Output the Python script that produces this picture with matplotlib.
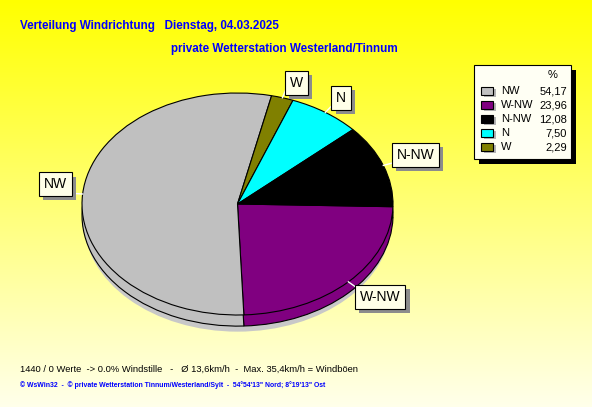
import numpy as np
import matplotlib
matplotlib.use("Agg")
from matplotlib import pyplot as plt
from matplotlib.patches import Rectangle, Ellipse
import matplotlib.patheffects as pe

# legend data (sorted as in the legend)
names = ["NW", "W-NW", "N-NW", "N", "W"]
percent = [54.17, 23.96, 12.08, 7.50, 2.29]
colors = ["#c0c0c0", "#800080", "#000000", "#00ffff", "#808000"]

# order of slices clockwise from 3 o'clock
pie_order = ["W-NW", "NW", "W", "N", "N-NW"]

title1 = "Verteilung Windrichtung   Dienstag, 04.03.2025"
title2 = "private Wetterstation Westerland/Tinnum"
info = "1440 / 0 Werte  -> 0.0% Windstille   -   \u00d8 13,6km/h  -  Max. 35,4km/h = Windb\u00f6en"
footer = "\u00a9 WsWin32  -  \u00a9 private Wetterstation Tinnum/Westerland/Sylt  -  54\u00b054'13\" Nord; 8\u00b019'13\" Ost"

W, H = 592, 407
fig = plt.figure(figsize=(W / 100, H / 100), dpi=100)

# background gradient yellow -> light cream
bg = fig.add_axes([0, 0, 1, 1])
grad = np.linspace(0, 1, 256)
img = np.zeros((256, 1, 3))
img[:, 0, 0] = 1.0
img[:, 0, 1] = 1.0
img[:, 0, 2] = grad * 0.92
bg.imshow(img, aspect="auto", extent=[0, W, H, 0])
bg.set_xlim(0, W)
bg.set_ylim(H, 0)
bg.axis("off")

# pie axes: radius 1 -> 155.5 px wide, 111 px tall
cx, cy, rx, ry = 237.5, 204, 155.5, 111
lim = 1.5
ax = fig.add_axes([(cx - lim * rx) / W, (H - cy - lim * ry) / H,
                   2 * lim * rx / W, 2 * lim * ry / H])

vals = [percent[names.index(n)] for n in pie_order]
cols = [colors[names.index(n)] for n in pie_order]
depth = 0.1
start = -1.4

ax.add_patch(Ellipse((0.0, -0.15), 1.98, 2.0, color="#c8c8c8", lw=0, zorder=0))
ax.pie(vals, colors=cols, startangle=start, counterclock=False,
       center=(0, -depth), wedgeprops=dict(edgecolor="black", linewidth=0.8))
wedges, _ = ax.pie(vals, colors=cols, startangle=start, counterclock=False,
                   wedgeprops=dict(edgecolor="black", linewidth=0.8))
ax.set_aspect("auto")
ax.set_xlim(-lim, lim)
ax.set_ylim(-lim, lim)
ax.axis("off")

# small pixel nudges for the slice labels
nudge = {"W": (6, -3), "N": (0, -1), "N-NW": (6, 4), "NW": (1, 8), "W-NW": (12, -2)}

for w, n in zip(wedges, pie_order):
    mid = np.deg2rad((w.theta1 + w.theta2) / 2)
    c, s = np.cos(mid), np.sin(mid)
    ax.plot([c, 1.08 * c], [s, 1.08 * s], color="white", lw=1, zorder=5)
    dx, dy = nudge[n]
    t = ax.text(1.18 * c + dx / rx, 1.17 * s + dy / ry, n, ha="center", va="center",
                fontsize=10, family=["Liberation Sans", "DejaVu Sans"], zorder=6,
                bbox=dict(boxstyle="square,pad=0.35", fc="#ffffe8", ec="black", lw=0.8))
    t.get_bbox_patch().set_path_effects(
        [pe.SimplePatchShadow(offset=(3, -3), shadow_rgbFace="#8c8c8c", alpha=1.0), pe.Normal()])

# overlay for text and legend in pixel coordinates
ov = fig.add_axes([0, 0, 1, 1])
ov.set_xlim(0, W)
ov.set_ylim(H, 0)
ov.axis("off")
ov.patch.set_alpha(0)

font = ["Liberation Sans", "DejaVu Sans"]
ov.text(20, 26, title1, color="#0000ff", fontsize=8.4, fontweight="bold",
        family=font, va="center", ha="left")
ov.text(171, 49, title2, color="#0000ff", fontsize=8.4, fontweight="bold",
        family=font, va="center", ha="left")
ov.text(20, 369, info, color="black", fontsize=6.75, family=font,
        va="center", ha="left")
ov.text(20, 385, footer, color="#0000ff", fontsize=4.95, fontweight="bold",
        family=font, va="center", ha="left")

# legend box
lx0, ly0, lx1, ly1 = 474, 65, 571, 159
ov.add_patch(Rectangle((lx0 + 5, ly0 + 5), lx1 - lx0, ly1 - ly0, fc="black", ec="none"))
ov.add_patch(Rectangle((lx0, ly0), lx1 - lx0, ly1 - ly0, fc="#fffff4", ec="black", lw=0.8))
ov.text(553, 75, "%", fontsize=8, family=font, ha="center", va="center")
for i, (n, p, c) in enumerate(zip(names, percent, colors)):
    y = 91 + i * 14
    ov.add_patch(Rectangle((484, y - 2), 12, 8, fc="#b4b4b4", ec="none"))
    ov.add_patch(Rectangle((481, y - 4), 12, 8, fc=c, ec="black", lw=0.8))
    ov.text(501, y, n, fontsize=8, family=font, ha="left", va="center")
    ov.text(567, y, f"{p:.2f}".replace(".", ","), fontsize=8,
            family=font, ha="right", va="center")

fig.savefig("out.png", dpi=100)
